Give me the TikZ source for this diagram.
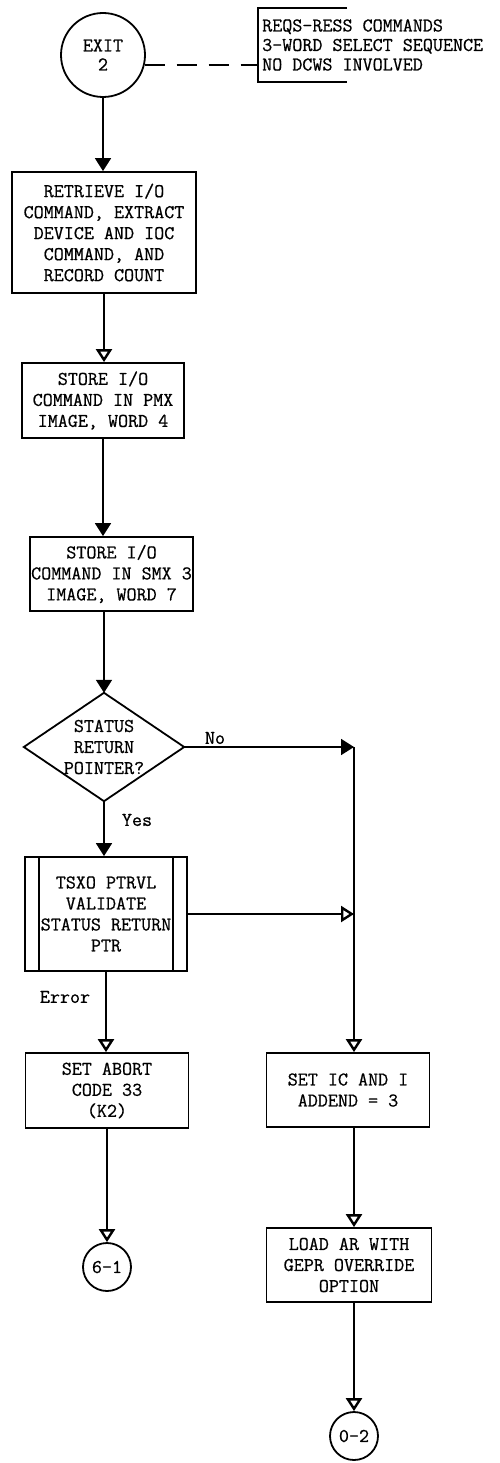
\documentclass[tikz,border=0pt]{standalone}
\usepackage{fontspec}
\usetikzlibrary{arrows.meta,calc}
\newfontfamily\fcfont{Latin Modern Mono}[FakeBold=0.7, UprightFeatures={FakeBold=0.7}]
\newcommand\fcboxfont{\fcfont\fontsize{19.5}{21}\selectfont}
\newcommand\fcnotefont{\fcfont\fontsize{19.5}{19.5}\selectfont}
\tikzset{
  line/.style={line width=1.8pt},
  proc/.style={draw, line width=1.8pt, rectangle, inner sep=0pt, align=center, font=\fcboxfont},
  term/.style={draw, line width=1.8pt, circle, inner sep=0pt, align=center, font=\fcboxfont},
  dectext/.style={rectangle, inner sep=0pt, align=center, font=\fcboxfont},
  lbl/.style={inner sep=0pt, font=\fcboxfont},
  notetext/.style={inner sep=0pt, align=left, font=\fcnotefont},
  fillarr/.style={-{Triangle[width=16pt,length=13pt]}},
  openarr/.style={-{Triangle[open,width=16pt,length=13pt,line width=2.4pt]}},
}
\begin{document}
\begin{tikzpicture}[x=1pt,y=-1pt]
\useasboundingbox (0,0) rectangle (500,1463);
% nodes
\node[term, minimum size=84pt, font=\fcfont\fontsize{19.5}{19}\selectfont] (exit) at (103,55) {EXIT\\2};
\node[notetext, anchor=west] (note) at (262,45) {REQS-RESS COMMANDS\\3-WORD SELECT SEQUENCE\\NO DCWS INVOLVED};
\coordinate (brT) at (258,8);
\coordinate (brB) at (258,82);
\node[proc, minimum width=184pt, minimum height=121pt] (b1) at (104,232.5) {RETRIEVE I/O\\COMMAND, EXTRACT\\DEVICE AND IOC\\COMMAND, AND\\RECORD COUNT};
\node[proc, minimum width=162pt, minimum height=75pt] (b2) at (103,400.5) {STORE I/O\\COMMAND IN PMX\\IMAGE, WORD 4};
\node[proc, minimum width=163pt, minimum height=74pt] (b3) at (111.5,574) {STORE I/O\\COMMAND IN SMX 3\\IMAGE, WORD 7};
\node[dectext, minimum width=160pt, minimum height=108pt] (dec) at (104,747) {STATUS\\RETURN\\POINTER?};
\draw[line] (dec.north) -- (dec.east) -- (dec.south) -- (dec.west) -- cycle;
\node[proc, minimum width=162pt, minimum height=114pt] (tsxo) at (106,914) {TSXO PTRVL\\VALIDATE\\STATUS RETURN\\PTR};
\draw[line] ([xshift=15pt]tsxo.north west) -- ([xshift=15pt]tsxo.south west);
\draw[line] ([xshift=-15pt]tsxo.north east) -- ([xshift=-15pt]tsxo.south east);
\node[proc, minimum width=163pt, minimum height=75pt] (abort) at (107,1090.5) {SET ABORT\\CODE 33\\(K2)};
\node[term, minimum size=48pt] (c61) at (107,1267) {6-1};
\node[proc, minimum width=163pt, minimum height=74pt] (setic) at (348,1090) {SET IC AND I\\ADDEND = 3};
\node[proc, minimum width=165pt, minimum height=74pt] (load) at (349,1265) {LOAD AR WITH\\GEPR OVERRIDE\\OPTION};
\node[term, minimum size=48pt] (c02) at (354,1436) {0-2};
\coordinate (rv) at (354,747);
% annotation
\draw[line] ([xshift=89pt]brT) -- (brT) -- (brB) -- ([xshift=89pt]brB);
\draw[line, dash pattern=on 20pt off 12pt] (exit.-14) -- (exit.-14 -| brT);
% connectors
\draw[line, fillarr] (exit.south) -- (exit.south |- b1.north);
\draw[line, openarr] (b1.south) -- (b1.south |- b2.north);
\draw[line, fillarr] (b2.south) -- (b2.south |- b3.north);
\draw[line, fillarr] (dec.north |- b3.south) -- (dec.north);
\draw[line, fillarr] (dec.east) -- (rv);
\draw[line, openarr] (rv) -- (rv |- setic.north);
\draw[line, fillarr] (dec.south) -- (dec.south |- tsxo.north);
\draw[line, openarr] (tsxo.east) -- (tsxo.east -| rv);
\draw[line, openarr] (tsxo.south) -- (tsxo.south |- abort.north);
\draw[line, openarr] (abort.south) -- (abort.south |- c61.north);
\draw[line, openarr] (setic.south -| rv) -- (rv |- load.north);
\draw[line, openarr] (load.south -| c02.north) -- (c02.north);
% labels
\node[lbl] (lno) at (215,738) {No};
\node[lbl] (lyes) at (137,820) {Yes};
\node[lbl] (lerr) at (65,997) {Error};
\end{tikzpicture}
\end{document}
